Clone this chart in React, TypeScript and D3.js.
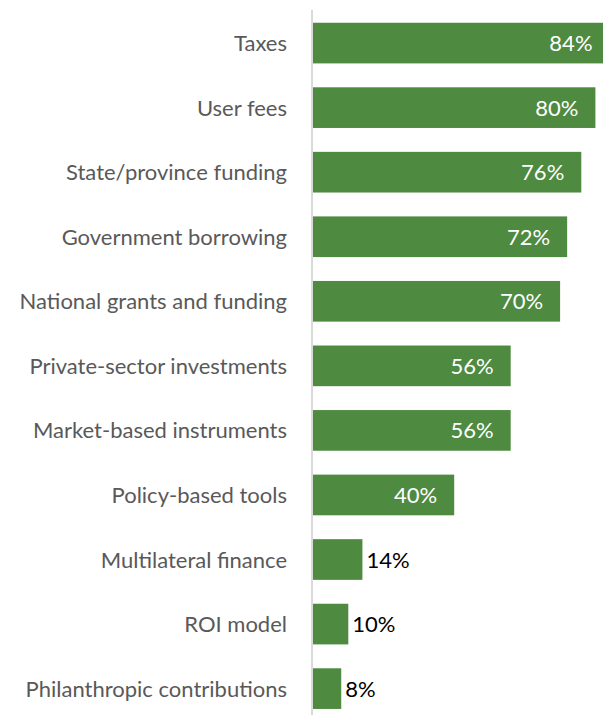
import { useEffect, useRef } from 'react';
import * as d3 from 'd3';

// funding sources, top to bottom
const categories = [
  'Taxes',
  'User fees',
  'State/province funding',
  'Government borrowing',
  'National grants and funding',
  'Private-sector investments',
  'Market-based instruments',
  'Policy-based tools',
  'Multilateral finance',
  'ROI model',
  'Philanthropic contributions',
];
const values = [84, 80, 76, 72, 70, 56, 56, 40, 14, 10, 8];

function App() {
  const ref = useRef<SVGSVGElement | null>(null);
  const width = 603;
  const height = 715;
  const axisX = 312;
  const font = "Lato, 'Open Sans', sans-serif";

  useEffect(() => {
    const svg = d3.select(ref.current);
    svg.selectAll('*').remove();

    const data = categories.map((c, i) => ({ name: c, value: values[i] }));

    const x = d3.scaleLinear().domain([0, 100]).range([axisX + 1, axisX + 1 + 353]);
    const y = d3.scaleBand<string>()
      .domain(categories)
      .range([10.8, 720.9])
      .paddingInner(0.37)
      .paddingOuter(0.185);

    // bars
    svg.append('g')
      .selectAll('rect')
      .data(data)
      .enter()
      .append('rect')
      .attr('x', x(0))
      .attr('y', d => y(d.name)!)
      .attr('width', d => x(d.value) - x(0))
      .attr('height', y.bandwidth())
      .attr('fill', '#4e8a3f');

    // vertical axis line
    svg.append('line')
      .attr('x1', axisX).attr('x2', axisX)
      .attr('y1', 10).attr('y2', height)
      .attr('stroke', '#d9d9d9')
      .attr('stroke-width', 2);

    // category labels
    svg.append('g')
      .selectAll('text')
      .data(data)
      .enter()
      .append('text')
      .attr('x', 287)
      .attr('y', d => y(d.name)! + y.bandwidth() / 2 + 8)
      .attr('text-anchor', 'end')
      .style('font-family', font)
      .style('font-size', '22px')
      .attr('fill', '#595959')
      .text(d => d.name);

    // value labels: inside for long bars, outside for short ones
    svg.append('g')
      .selectAll('text')
      .data(data)
      .enter()
      .append('text')
      .attr('x', d => d.value >= 30 ? x(d.value) - 17 : x(d.value) + 4)
      .attr('y', d => y(d.name)! + y.bandwidth() / 2 + 8)
      .attr('text-anchor', d => d.value >= 30 ? 'end' : 'start')
      .style('font-family', font)
      .style('font-size', '22px')
      .attr('fill', d => d.value >= 30 ? '#ffffff' : '#000000')
      .text(d => d.value + '%');
  }, []);

  return (
    <svg
      ref={ref}
      width={width}
      height={height}
      style={{ position: 'absolute', left: 0, top: 0, background: '#ffffff' }}
    />
  );
}

export default App;
